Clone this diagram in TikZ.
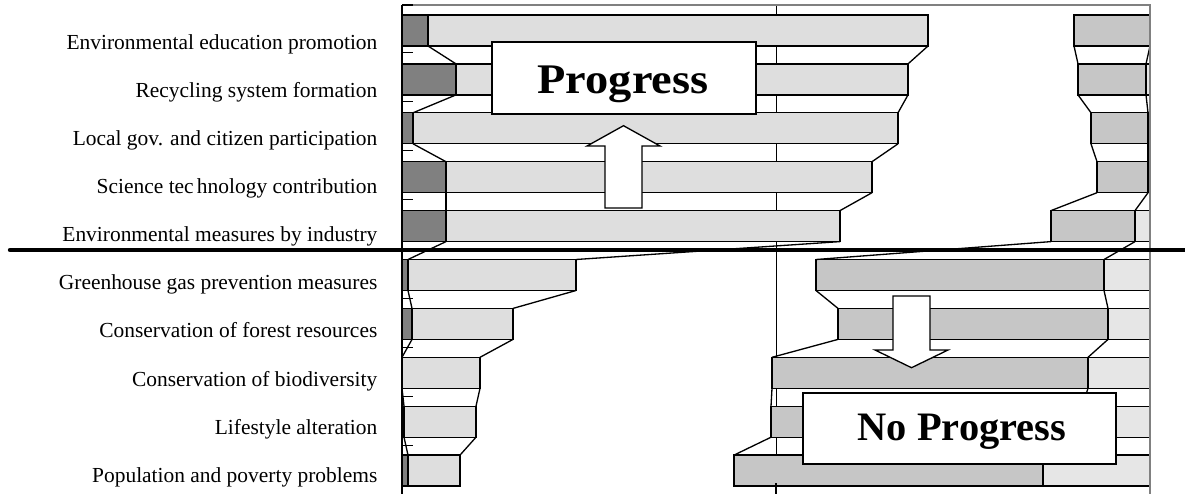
\documentclass[tikz,border=0pt]{standalone}
\usepackage{fontspec}
\setmainfont{Liberation Serif}
\definecolor{darkseg}{HTML}{808080}
\definecolor{lightseg}{HTML}{DEDEDE}
\definecolor{midseg}{HTML}{C6C6C6}
\definecolor{paleseg}{HTML}{E6E6E6}
\newcommand{\catbar}[5] % row index, dark end, light end, mid start, pale start (x in px)
{
	% row position
	\pgfmathsetmacro{\bartop}{15+48.9*#1}
	\pgfmathsetmacro{\barbot}{\bartop+31}
	% segments
	\draw[fill=darkseg] (402,\bartop) rectangle (#2,\barbot);
	\draw[fill=lightseg] (#2,\bartop) rectangle (#3,\barbot);
	\draw[fill=midseg] (#4,\bartop) rectangle (#5,\barbot);
	\draw[fill=paleseg] (#5,\bartop) rectangle (1150,\barbot);
}
\newcommand{\serieslink}[9] % upper row index, its four edges, the four edges of the next row
{
	\pgfmathsetmacro{\linkbot}{46+48.9*#1}
	\pgfmathsetmacro{\linktop}{15+48.9*(#1+1)}
	\draw (#2,\linkbot) -- (#6,\linktop);
	\draw (#3,\linkbot) -- (#7,\linktop);
	\draw (#4,\linkbot) -- (#8,\linktop);
	\draw (#5,\linkbot) -- (#9,\linktop);
}

\begin{document}
\begin{tikzpicture}[x=0.02cm, y=-0.02cm, line width=0.75pt,
	catlabel/.style={anchor=base east, font=\fontsize{12.2}{14}\selectfont, inner sep=0pt},
	bigbox/.style={draw, fill=white, inner sep=0pt, line width=0.9pt},
	bigtext/.style={anchor=base, font=\fontsize{24}{28}\selectfont\bfseries, inner sep=0pt}]
	% 1185px x 494px, one unit = one pixel
	\useasboundingbox (0,0) rectangle (1185,494);
	
	% 50% gridline
	\draw[line width=0.5pt] (776,5) -- (776,494);
	
	% bars
	\catbar{0}{428}{928}{1074}{1150};
	\catbar{1}{456}{908}{1078}{1146};
	\catbar{2}{413}{898}{1091}{1148};
	\catbar{3}{446}{872}{1097}{1148};
	\catbar{4}{446}{840}{1051}{1135};
	\catbar{5}{408}{576}{816}{1104};
	\catbar{6}{412}{513}{838}{1108};
	\catbar{7}{402}{480}{772}{1088};
	\catbar{8}{404}{476}{771}{1082};
	\catbar{9}{408}{460}{734}{1043};
	
	% series lines
	\serieslink{0}{428}{928}{1074}{1150}{456}{908}{1078}{1146};
	\serieslink{1}{456}{908}{1078}{1146}{413}{898}{1091}{1148};
	\serieslink{2}{413}{898}{1091}{1148}{446}{872}{1097}{1148};
	\serieslink{3}{446}{872}{1097}{1148}{446}{840}{1051}{1135};
	\serieslink{4}{446}{840}{1051}{1135}{408}{576}{816}{1104};
	\serieslink{5}{408}{576}{816}{1104}{412}{513}{838}{1108};
	\serieslink{6}{412}{513}{838}{1108}{402}{480}{772}{1088};
	\serieslink{7}{402}{480}{772}{1088}{404}{476}{771}{1082};
	\serieslink{8}{404}{476}{771}{1082}{408}{460}{734}{1043};
	
	% plot frame and axis
	\draw[gray] (402,5) -- (1150,5) -- (1150,494);
	\draw (402,5) -- (402,494);
	\draw (402,5) -- (413,5);
	\foreach \k in {1,...,9}
		\draw (402,3+49.2*\k) -- (413,3+49.2*\k);
	\draw (776,483) -- (776,494);
	
	% category labels
	\node[catlabel] (lab1) at (378,49.3) {Environmental education promotion};
	\node[catlabel] (lab2) at (378,97.4) {Recycling system formation };
	\node[catlabel] (lab3) at (378,145.5) {Local gov. and citizen participation};
	\node[catlabel] (lab4) at (378,193.6) {Science tec\hspace{0.15em}hnology contribution};
	\node[catlabel] (lab5) at (378,241.7) {Environmental measures by industry};
	\node[catlabel] (lab6) at (378,289.8) {Greenhouse gas prevention measures};
	\node[catlabel] (lab7) at (378,337.9) {Conservation of forest resources};
	\node[catlabel] (lab8) at (378,386.0) {Conservation of biodiversity};
	\node[catlabel] (lab9) at (378,434.1) {Lifestyle alteration };
	\node[catlabel] (lab10) at (378,482.2) {Population and poverty problems};
	
	% divider
	\draw[line width=2.5pt, line cap=round] (10,250) -- (1185,250);
	
	% progress box and arrow
	\node[bigbox, minimum width=5.28cm, minimum height=1.44cm] (progbox) at (624,78) {};
	\node[bigtext, xscale=1.1] (progtext) at (623,93.3) {Progress};
	\draw[fill=white] (605,208) -- (642,208) -- (642,146) -- (660,146) -- (623.5,125.7)
		-- (587,146) -- (605,146) -- cycle;
	
	% no progress box and arrow
	\draw[fill=white] (893,296) -- (930,296) -- (930,350) -- (948,350) -- (911.5,367.7)
		-- (875,350) -- (893,350) -- cycle;
	\node[bigbox, minimum width=6.26cm, minimum height=1.42cm] (noprogbox) at (959.5,428.5) {};
	\node[bigtext, font=\fontsize{23}{27}\selectfont\bfseries] (noprogtext) at (961.8,440) {No Progress};
\end{tikzpicture}
\end{document}
